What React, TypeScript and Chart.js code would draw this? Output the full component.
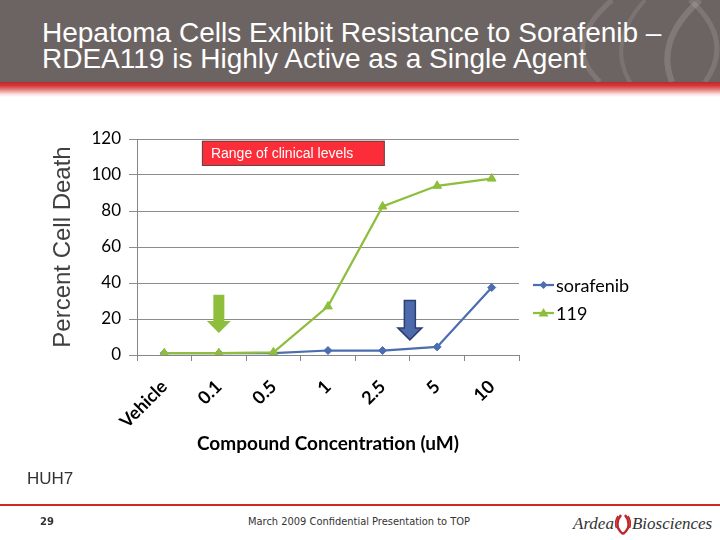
import React, { useEffect, useRef } from "react";
import { Chart, registerables } from "chart.js";

Chart.register(...registerables);

// ---- data ----
const categories = ["Vehicle", "0.1", "0.5", "1", "2.5", "5", "10"];
const sorafenibValues = [1, 1, 1, 2.5, 2.5, 4.5, 37.5];
const rdea119Values = [1, 1, 1.5, 27, 82.5, 94, 98];
const yTickValues = [0, 20, 40, 60, 80, 100, 120];
const seriesNames = ["sorafenib", "119"];
const xTitle = "Compound Concentration (uM)";
const yTitle = "Percent Cell Death";
const boxLabel = "Range of clinical levels";

// annotation anchors in data units (category index, value)
const boxRange = { x0: 0.69, x1: 4.04, yTop: 119, yBottom: 105 };
const greenArrow = { x: 1, yTop: 33.5, yTip: 12.2 };
const blueArrow = { x: 4.5, yTop: 30.3, yTip: 8.4 };

const BLUE = "#4a6eb0";
const GREEN = "#8ebe3c";

function drawArrow(ctx: CanvasRenderingContext2D, chart: any, a: any, fill: string, stroke: string | null) {
  const xs = chart.scales.x;
  const ys = chart.scales.y;
  const cx = xs.getPixelForValue(a.x);
  const top = ys.getPixelForValue(a.yTop);
  const tip = ys.getPixelForValue(a.yTip);
  const shaftHalf = 5.5;
  const headHalf = 12;
  const headH = 12;
  ctx.save();
  ctx.beginPath();
  ctx.moveTo(cx - shaftHalf, top);
  ctx.lineTo(cx + shaftHalf, top);
  ctx.lineTo(cx + shaftHalf, tip - headH);
  ctx.lineTo(cx + headHalf, tip - headH);
  ctx.lineTo(cx, tip);
  ctx.lineTo(cx - headHalf, tip - headH);
  ctx.lineTo(cx - shaftHalf, tip - headH);
  ctx.closePath();
  ctx.fillStyle = fill;
  ctx.fill();
  if (stroke) {
    ctx.strokeStyle = stroke;
    ctx.lineWidth = 1.5;
    ctx.stroke();
  }
  ctx.restore();
}

const annotationPlugin = {
  id: "annotations",
  afterDatasetsDraw(chart: any) {
    const ctx = chart.ctx as CanvasRenderingContext2D;
    const xs = chart.scales.x;
    const ys = chart.scales.y;
    // red box
    const bx0 = xs.getPixelForValue(boxRange.x0);
    const bx1 = xs.getPixelForValue(boxRange.x1);
    const by0 = ys.getPixelForValue(boxRange.yTop);
    const by1 = ys.getPixelForValue(boxRange.yBottom);
    ctx.save();
    ctx.fillStyle = "#fb2d38";
    ctx.fillRect(bx0, by0, bx1 - bx0, by1 - by0);
    ctx.strokeStyle = "#5a4a4a";
    ctx.lineWidth = 1;
    ctx.strokeRect(bx0 + 0.5, by0 + 0.5, bx1 - bx0 - 1, by1 - by0 - 1);
    ctx.fillStyle = "#ffffff";
    ctx.font = "14px 'Liberation Sans', Arial, sans-serif";
    ctx.textBaseline = "middle";
    ctx.textAlign = "left";
    ctx.fillText(boxLabel, bx0 + 9, (by0 + by1) / 2 + 0.5);
    ctx.restore();
    drawArrow(ctx, chart, greenArrow, GREEN, null);
    drawArrow(ctx, chart, blueArrow, "#4c6aac", "#2b3f70");
  },
  afterDraw(chart: any) {
    const ctx = chart.ctx as CanvasRenderingContext2D;
    const area = chart.chartArea;
    const h = area.bottom - area.top;
    const x0 = area.right + 14;
    const y0 = area.top + h * 0.676;
    const gap = 28;
    const styles = [
      { color: BLUE, shape: "diamond" },
      { color: GREEN, shape: "triangle" },
    ];
    seriesNames.forEach((name, i) => {
      const y = y0 + i * gap;
      const st = styles[i];
      ctx.save();
      ctx.strokeStyle = st.color;
      ctx.lineWidth = 2.25;
      ctx.beginPath();
      ctx.moveTo(x0, y);
      ctx.lineTo(x0 + 21, y);
      ctx.stroke();
      ctx.fillStyle = st.color;
      const mx = x0 + 10.5;
      ctx.beginPath();
      if (st.shape === "diamond") {
        ctx.moveTo(mx, y - 4);
        ctx.lineTo(mx + 4, y);
        ctx.lineTo(mx, y + 4);
        ctx.lineTo(mx - 4, y);
      } else {
        ctx.moveTo(mx, y - 5);
        ctx.lineTo(mx + 5, y + 3.5);
        ctx.lineTo(mx - 5, y + 3.5);
      }
      ctx.closePath();
      ctx.fill();
      ctx.fillStyle = "#000";
      ctx.font = "18px Lato, 'Open Sans', sans-serif";
      ctx.textBaseline = "middle";
      ctx.fillText(name, x0 + 23, y + 1);
      ctx.restore();
    });
  },
};

function ChartCanvas() {
  const ref = useRef<HTMLCanvasElement | null>(null);
  useEffect(() => {
    if (!ref.current) return;
    const chart = new Chart(ref.current, {
      type: "line",
      data: {
        labels: categories,
        datasets: [
          {
            label: seriesNames[0],
            data: sorafenibValues,
            borderColor: BLUE,
            backgroundColor: BLUE,
            pointStyle: "rectRot",
            pointRadius: 4,
            pointBorderWidth: 1,
            borderWidth: 2.25,
            tension: 0,
            order: 1,
          },
          {
            label: seriesNames[1],
            data: rdea119Values,
            borderColor: GREEN,
            backgroundColor: GREEN,
            pointStyle: "triangle",
            pointRadius: 5,
            pointBorderWidth: 1,
            borderWidth: 2.25,
            tension: 0,
            order: 0,
          },
        ],
      },
      options: {
        animation: false,
        responsive: false,
        layout: { padding: { left: 45, right: 201, top: 19, bottom: 0 } },
        plugins: { legend: { display: false }, tooltip: { enabled: false } },
        scales: {
          x: {
            type: "category",
            offset: true,
            grid: {
              offset: true,
              drawOnChartArea: false,
              drawTicks: true,
              tickLength: 6,
              color: "#868686",
            },
            border: { color: "#868686", width: 1 },
            ticks: {
              maxRotation: 45,
              minRotation: 45,
              autoSkip: false,
              padding: 15,
              color: "#000",
              font: { family: "Lato", size: 18, weight: "bold" },
            },
            title: {
              display: true,
              text: xTitle,
              color: "#000",
              font: { family: "Lato", size: 19, weight: "bold" },
              padding: { top: 0, bottom: 15 },
            },
            afterFit: (s: any) => {
              s.height = 115;
            },
          },
          y: {
            min: 0,
            max: 120,
            afterBuildTicks: (s: any) => {
              s.ticks = yTickValues.map((v) => ({ value: v }));
            },
            grid: { color: "#8c8c8c", tickLength: 8, lineWidth: 1 },
            border: { color: "#868686", width: 1 },
            ticks: {
              padding: 8,
              color: "#000",
              font: { family: "Lato", size: 17 },
            },
            title: {
              display: true,
              text: yTitle,
              color: "#404040",
              font: { family: "'Liberation Sans', Arial, sans-serif", size: 24 },
              padding: { top: 4, bottom: 0 },
            },
            afterFit: (s: any) => {
              s.width = 92;
            },
          },
        },
      } as any,
      plugins: [annotationPlugin],
    });
    return () => chart.destroy();
  }, []);
  return <canvas ref={ref} width={720} height={350} style={{ display: "block" }} />;
}

export default function App() {
  return (
    <div
      style={{
        position: "fixed",
        left: 0,
        top: 0,
        width: 720,
        height: 540,
        background: "#ffffff",
        overflow: "hidden",
        fontFamily: "'Liberation Sans', Arial, sans-serif",
      }}
    >
      {/* header */}
      <div style={{ position: "absolute", left: 0, top: 0, width: 720, height: 82, background: "#6c6462" }} />
      <svg width={720} height={96} style={{ position: "absolute", left: 0, top: 0 }}>
        <path d="M 612 0 Q 560 45 600 82" stroke="rgba(255,255,255,0.12)" strokeWidth={5} fill="none" />
        <path d="M 700 0 Q 655 40 672 82" stroke="rgba(255,255,255,0.14)" strokeWidth={6} fill="none" />
        <path d="M 690 0 Q 735 40 705 82" stroke="rgba(255,255,255,0.12)" strokeWidth={5} fill="none" />
        <path d="M 645 0 Q 600 50 640 96" stroke="rgba(255,255,255,0.10)" strokeWidth={4} fill="none" />
      </svg>
      <div
        style={{
          position: "absolute",
          left: 0,
          top: 82,
          width: 720,
          height: 15,
          background: "linear-gradient(to bottom, #c32629 0%, #d43a3a 25%, #e98a8a 55%, #f8dede 80%, #ffffff 100%)",
        }}
      />
      <div
        style={{
          position: "absolute",
          left: 42,
          top: 20,
          color: "#ffffff",
          fontSize: 28,
          lineHeight: "26px",
          whiteSpace: "nowrap",
        }}
      >
        Hepatoma Cells Exhibit Resistance to Sorafenib –<br />
        RDEA119 is Highly Active as a Single Agent
      </div>

      {/* chart */}
      <div style={{ position: "absolute", left: 0, top: 120, width: 720, height: 350 }}>
        <ChartCanvas />
      </div>

      {/* cell line label */}
      <div style={{ position: "absolute", left: 27, top: 470, fontSize: 17, lineHeight: "17px", color: "#333" }}>HUH7</div>

      {/* footer */}
      <div style={{ position: "absolute", left: 0, top: 504, width: 720, height: 2, background: "#d32a20" }} />
      <div
        style={{
          position: "absolute",
          left: 40,
          top: 516,
          fontFamily: "'DejaVu Sans', Verdana, sans-serif",
          fontWeight: "bold",
          fontSize: 10,
          lineHeight: "12px",
          color: "#333",
        }}
      >
        29
      </div>
      <div
        style={{
          position: "absolute",
          left: 248,
          top: 516,
          fontFamily: "'DejaVu Sans', Verdana, sans-serif",
          fontSize: 9.9,
          lineHeight: "12px",
          color: "#333",
          whiteSpace: "nowrap",
        }}
      >
        March 2009 Confidential Presentation to TOP
      </div>
      <div
        style={{
          position: "absolute",
          left: 573,
          top: 513,
          fontFamily: "'Liberation Serif', 'Times New Roman', serif",
          fontStyle: "italic",
          fontSize: 17,
          lineHeight: "20px",
          color: "#333",
          whiteSpace: "nowrap",
          display: "flex",
          alignItems: "center",
        }}
      >
        <span>Ardea</span>
        <svg width={16} height={22} style={{ margin: "0 1px" }}>
          <path d="M 6 2 Q 1 8 3 15 Q 5 19 8 21" stroke="#c0272d" strokeWidth={2.5} fill="none" />
          <path d="M 3 3 Q -1 9 1.5 15" stroke="#c0272d" strokeWidth={1.5} fill="none" />
          <path d="M 10 2 Q 15 8 13 15 Q 11 19 8 21" stroke="#c0272d" strokeWidth={2.5} fill="none" />
          <path d="M 13 3 Q 17 9 14.5 15" stroke="#c0272d" strokeWidth={1.5} fill="none" />
        </svg>
        <span>Biosciences</span>
      </div>
    </div>
  );
}
